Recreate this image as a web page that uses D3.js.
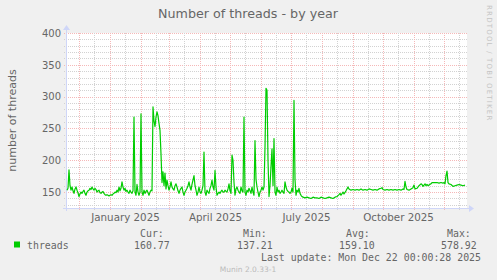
<!DOCTYPE html>
<html lang="en">
<head>
<meta charset="UTF-8">
<script src="https://d3js.org/d3.v7.min.js"></script>
<style>
  body { margin: 0; background: #f0f0f0; }
  svg { display: block; }
</style>
</head>
<body>
<svg width="497" height="280" id="chart"></svg>
<script>
const startDate = "2024-11-19";
const dayOffsets = [
  0,1,2,3,4,5,6,7,8,9,10,11,12,13,14,15,16,17,18,19,20,21,22,23,24,25,26,27,28,29,
  30,31,32,33,34,35,36,37,38,39,40,41,42,43,44,45,46,47,48,49,50,51,52,53,54,55,56,57,58,59,
  60,61,62,63,64,65,66,67,68,69,70,71,72,73,74,75,76,77,78,79,80,81,82,83,84,85,86,87,88,89,
  90,91,92,93,94,95,96,97,98,99,100,101,102,103,104,105,106,107,108,109,110,111,112,113,114,115,116,117,118,119,
  120,121,122,123,124,125,126,127,128,129,130,131,132,133,134,135,136,137,138,139,140,141,142,143,144,145,146,147,148,149,
  150,151,152,153,154,155,156,157,158,159,160,161,162,163,164,165,166,167,168,169,170,171,172,173,174,175,176,177,178,179,
  180,181,182,183,184,185,186,187,188,189,190,191,192,193,194,195,196,197,198,199,200,201,202,203,204,205,206,207,208,209,
  210,211,212,213,214,215,216,217,218,219,220,221,222,223,224,225,226,227,228,229,230,231,232,233,234,235,
  236,238,240,242,244,246,248,250,252,254,256,258,260,262,264,266,268,270,272,273,274,276,277,279,281,282,
  284,286,288,290,292,294,296,298,300,302,304,306,308,310,312,314,315,316,318,320,322,324,326,328,330,332,
  334,336,337,338,339,340,342,344,346,347,348,350,352,354,355,356,357,358,359,360,361,362,364,365,366,368,
  370,372,374,376,377,378,379,380,381,382,384,386,388,390,392,394,396,398
];
const threads = [
  153,156,185,160,153,158,152,148,155,158,153,149,143,147,150,148,151,153,148,145,150,152,153,156,154,158,155,153,156,154,
  150,152,153,149,148,150,151,148,146,145,146,145,144,145,146,145,147,148,150,149,153,150,158,152,156,166,158,153,156,151,
  153,150,148,153,150,148,152,268,150,145,162,150,145,150,273,150,145,153,148,151,153,149,145,150,153,152,284,262,253,268,
  276,270,258,247,210,165,182,160,180,155,169,160,153,158,166,158,155,153,160,163,158,152,148,153,156,158,150,145,150,153,
  156,160,166,158,153,162,169,176,160,153,145,150,158,150,148,153,160,213,150,145,153,150,148,156,160,169,158,153,184,158,
  145,148,150,148,151,153,150,150,153,151,150,155,163,152,148,208,200,165,145,155,158,153,150,148,158,152,150,268,150,145,
  153,150,156,152,148,158,150,145,231,170,158,150,143,150,153,158,153,158,220,313,310,200,143,160,190,218,160,234,150,145,
  158,150,153,148,150,153,150,148,166,158,153,151,150,148,150,156,150,294,170,145,153,150,156,148,145,143,
  142,141,142,141,140,142,141,141,140,142,141,140,141,142,141,140,142,143,146,148,145,150,147,152,158,155,
  153,154,153,154,153,155,153,154,153,155,154,153,154,153,155,156,157,154,153,154,153,154,153,154,153,154,
  153,155,154,167,158,154,153,155,157,161,155,156,160,163,162,159,161,163,160,162,160,161,163,165,165,165,
  165,164,165,164,165,163,176,183,165,163,162,159,160,161,162,161,160,161
];
const yTicks = [150, 200, 250, 300, 350, 400];
const xLabels = ["January 2025", "April 2025", "July 2025", "October 2025"];
const xLabelMonths = ["2025-01-01", "2025-04-01", "2025-07-01", "2025-10-01"];
const legendHeads = ["Cur:", "Min:", "Avg:", "Max:"];
const legendValues = ["160.77", "137.21", "159.10", "578.92"];

const svg = d3.select("#chart");
const parse = d3.utcParse("%Y-%m-%d");
const start = parse(startDate);

// plot area 400 x 175, like rrdtool
const x0 = 67, x1 = 467, yTop = 33, yBot = 208;
const x = d3.scaleUtc().domain([start, d3.utcDay.offset(start, 400)]).range([x0, x1]);
const y = d3.scaleLinear().domain([125, 400]).range([yBot, yTop]);

const data = dayOffsets.map((d, i) => ({ date: d3.utcDay.offset(start, d), v: threads[i] }));

svg.append("rect").attr("width", 497).attr("height", 280).attr("fill", "#f0f0f0");
svg.append("rect").attr("x", x0).attr("y", yTop).attr("width", x1 - x0).attr("height", yBot - yTop).attr("fill", "#fff");

const grid = svg.append("g").attr("shape-rendering", "crispEdges");
const minorCol = "#d2d2d2", majorCol = "#f5b8b8";

// horizontal grid: minor every 10, major every 50
d3.range(130, 401, 10).forEach(v => {
  const major = v % 50 === 0;
  const yy = Math.round(y(v)) + 0.5;
  grid.append("line")
    .attr("x1", x0 - 3).attr("x2", x1).attr("y1", yy).attr("y2", yy)
    .attr("stroke", major ? majorCol : minorCol)
    .attr("stroke-dasharray", "1,1");
});

// vertical grid: month starts major, mid-month minor
d3.utcMonth.range(x.domain()[0], x.domain()[1]).forEach(m => {
  const xx = Math.round(x(m)) + 0.5;
  grid.append("line")
    .attr("x1", xx).attr("x2", xx).attr("y1", yTop).attr("y2", yBot + 3)
    .attr("stroke", majorCol).attr("stroke-dasharray", "1,1");
  const mid = d3.utcDay.offset(m, 15);
  if (mid < x.domain()[1]) {
    const xm = Math.round(x(mid)) + 0.5;
    grid.append("line")
      .attr("x1", xm).attr("x2", xm).attr("y1", yTop).attr("y2", yBot + 3)
      .attr("stroke", minorCol).attr("stroke-dasharray", "1,1");
  }
});
grid.append("line").attr("x1", Math.round(x(start)) - 0.5).attr("x2", Math.round(x(start)) - 0.5)
  .attr("y1", yTop).attr("y2", yBot + 3).attr("stroke", minorCol).attr("stroke-dasharray", "1,1");

// axes lines + arrows
const axisCol = "#cfd6f8";
svg.append("line").attr("x1", x0 - 0.5).attr("x2", x0 - 0.5).attr("y1", yBot + 3).attr("y2", yTop - 5)
  .attr("stroke", axisCol).attr("shape-rendering", "crispEdges");
svg.append("line").attr("x1", x0 - 4).attr("x2", x1 + 3).attr("y1", yBot + 0.5).attr("y2", yBot + 0.5)
  .attr("stroke", axisCol).attr("shape-rendering", "crispEdges");
svg.append("path").attr("d", `M${x0 - 4},${yTop - 3}L${x0 + 3},${yTop - 3}L${x0 - 0.5},${yTop - 8}Z`).attr("fill", axisCol);
svg.append("path").attr("d", `M${x1 + 2},${yBot - 3}L${x1 + 2},${yBot + 4}L${x1 + 7},${yBot + 0.5}Z`).attr("fill", axisCol);

// data line
svg.append("path").datum(data)
  .attr("fill", "none").attr("stroke", "#00cc00").attr("stroke-width", 1.2)
  .attr("stroke-linejoin", "round")
  .attr("d", d3.line().x(d => x(d.date)).y(d => y(d.v)));

const font = "'DejaVu Sans', sans-serif";
const mono = "'DejaVu Sans Mono', monospace";
const fc = "#666";

// y axis labels
const ya = svg.append("g").attr("transform", `translate(${x0 - 6},0)`)
  .call(d3.axisLeft(y).tickValues(yTicks).tickSize(0).tickPadding(0));
ya.select(".domain").remove();
ya.selectAll("text").attr("font-family", font).attr("font-size", "10px").attr("fill", fc);

// x axis labels, centred in the month
const xa = svg.append("g").attr("transform", `translate(0,${yBot + 3})`)
  .call(d3.axisBottom(x)
    .tickValues(xLabelMonths.map(s => d3.utcDay.offset(parse(s), 15)))
    .tickFormat((d, i) => xLabels[i]).tickSize(0).tickPadding(0));
xa.select(".domain").remove();
xa.selectAll("text").attr("font-family", font).attr("font-size", "10.3px").attr("fill", fc).attr("dy", "0.95em");

// title
svg.append("text").attr("x", 248).attr("y", 17.7).attr("text-anchor", "middle")
  .attr("font-family", font).attr("font-size", "12.7px").attr("fill", fc)
  .text("Number of threads - by year");

// vertical axis title
svg.append("text").attr("transform", `translate(15.5,${(yTop + yBot) / 2}) rotate(-90)`)
  .attr("text-anchor", "middle").attr("font-family", font).attr("font-size", "11px").attr("fill", fc)
  .text("number of threads");

// rrdtool tag on the right
svg.append("text").attr("transform", "translate(486.5,5) rotate(90)")
  .attr("font-family", font).attr("font-size", "7px").attr("letter-spacing", "1.2px").attr("fill", "#c4c4c4")
  .text("RRDTOOL / TOBI OETIKER");

// legend
svg.append("rect").attr("x", 14).attr("y", 241.5).attr("width", 6).attr("height", 6).attr("fill", "#00cc00");
svg.append("text").attr("x", 27).attr("y", 249).attr("font-family", mono).attr("font-size", "9.9px").attr("fill", fc).text("threads");
const headX = [140, 243, 346, 447];
const valX = [134, 237, 339, 441];
svg.selectAll(".head").data(legendHeads).join("text")
  .attr("x", (d, i) => headX[i]).attr("y", 237.3)
  .attr("font-family", mono).attr("font-size", "9.9px").attr("fill", fc).text(d => d);
svg.selectAll(".val").data(legendValues).join("text")
  .attr("x", (d, i) => valX[i]).attr("y", 249)
  .attr("font-family", mono).attr("font-size", "9.9px").attr("fill", fc).text(d => d);
svg.append("text").attr("x", 261).attr("y", 261).attr("font-family", mono).attr("font-size", "9.9px").attr("fill", fc)
  .text("Last update: Mon Dec 22 00:00:28 2025");
svg.append("text").attr("x", 248).attr("y", 272).attr("text-anchor", "middle")
  .attr("font-family", font).attr("font-size", "7.5px").attr("fill", "#bbb")
  .text("Munin 2.0.33-1");
</script>
</body>
</html>
